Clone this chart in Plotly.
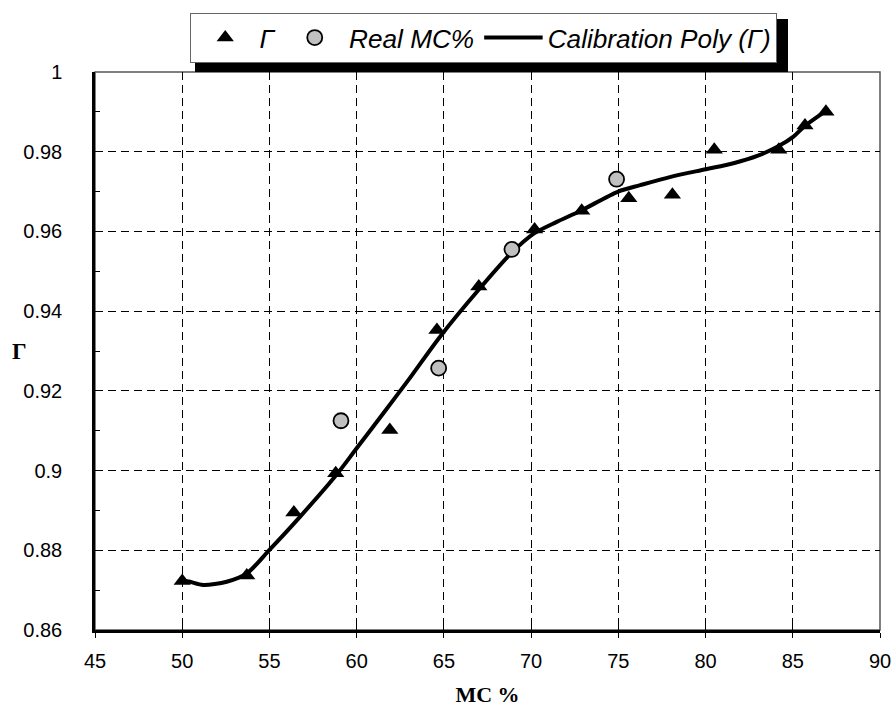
import plotly.graph_objects as go

# Γ measurements
gamma_mc = [50.0, 53.7, 56.4, 58.8, 61.9, 64.6, 67.0, 70.2, 72.9, 75.6, 78.1, 80.5, 84.2, 85.7, 86.9]
gamma_val = [0.8723, 0.8737, 0.8895, 0.8993, 0.9102, 0.9353, 0.9462, 0.9605, 0.9652, 0.9683,
             0.9692, 0.9805, 0.9805, 0.9866, 0.9900]

# Real MC%
real_mc = [59.1, 64.7, 68.9, 74.9]
real_val = [0.9125, 0.9257, 0.9555, 0.9731]

# Calibration polynomial curve
poly_mc = [50.0, 50.45, 51.2, 52.55, 53.7, 55.0, 56.75, 58.76, 60.0, 61.53, 62.96, 64.78, 66.98,
           68.85, 70.17, 71.47, 72.85, 74.99, 76.25, 78.0, 80.02, 81.6, 83.0, 84.14, 85.04, 85.65,
           86.76, 87.0]
poly_val = [0.8725, 0.8721, 0.8713, 0.8721, 0.8742, 0.8801, 0.8884, 0.8985, 0.9056, 0.9144,
            0.9227, 0.9336, 0.9453, 0.9545, 0.9595, 0.9624, 0.9652, 0.9700, 0.9716, 0.9737,
            0.9756, 0.9771, 0.9790, 0.9813, 0.9838, 0.9863, 0.9898, 0.9905]

x_ticks = [45, 50, 55, 60, 65, 70, 75, 80, 85, 90]
y_ticks = [0.86, 0.88, 0.9, 0.92, 0.94, 0.96, 0.98, 1]
y_ticktext = ["0.86", "0.88", "0.9", "0.92", "0.94", "0.96", "0.98", "1"]

W, H = 891, 707
L, R, T, B = 95, 11, 72, 77
PW, PH = W - L - R, H - T - B


def px_x(p):
    return (p - L) / PW


def px_y(p):
    return (H - B - p) / PH


SANS = "Liberation Sans, Arial, sans-serif"
SERIF = "Liberation Serif, Times New Roman, serif"

fig = go.Figure()
fig.add_trace(go.Scatter(
    x=poly_mc, y=poly_val, mode="lines", name="Calibration Poly (Γ)", legendrank=3,
    line=dict(color="black", width=4, shape="spline", smoothing=0.8),
))
fig.add_trace(go.Scatter(
    x=gamma_mc, y=gamma_val, mode="markers", name="Γ", legendrank=1,
    marker=dict(symbol="triangle-up", size=15, color="black", line=dict(width=0)),
))
fig.add_trace(go.Scatter(
    x=real_mc, y=real_val, mode="markers", name="Real MC%", legendrank=2,
    marker=dict(symbol="circle", size=15, color="#c0c0c0", line=dict(color="black", width=1.8)),
))
# invisible trace to attach xaxis2 so its inside ticks render
fig.add_trace(go.Scatter(x=[45, 90], y=[0.86, 0.86], xaxis="x2", mode="lines",
                         line=dict(width=0), hoverinfo="skip", showlegend=False))

fig.update_layout(
    width=W, height=H,
    margin=dict(l=L, r=R, t=T, b=B, autoexpand=False),
    paper_bgcolor="white", plot_bgcolor="white",
    font=dict(family=SANS, size=20, color="black"),
    showlegend=True,
    legend=dict(
        orientation="h", x=px_x(190), xanchor="left", y=px_y(13), yanchor="top",
        bgcolor="white", bordercolor="#666", borderwidth=1,
        font=dict(family=SANS, size=26.2, style="italic", color="black"),
        itemwidth=58.5, traceorder="normal",
    ),
    xaxis=dict(
        range=[45, 90], tickvals=x_ticks, ticks="outside", ticklen=5, tickwidth=1, tickcolor="black",
        showline=True, linewidth=2.5, linecolor="black",
        showgrid=True, gridcolor="black", gridwidth=1, griddash="8px,5px",
        zeroline=False, ticklabelstandoff=6, ticklabeloverflow="allow",
        title=dict(text="<b>MC %</b>", font=dict(family=SERIF, size=22), standoff=18),
    ),
    xaxis2=dict(
        range=[45, 90], overlaying="x", matches="x", tickvals=x_ticks, ticks="inside", ticklen=5,
        tickwidth=1, tickcolor="black", showticklabels=False, showgrid=False, showline=False,
        zeroline=False, side="bottom",
    ),
    yaxis=dict(
        range=[0.86, 1.0], tickvals=y_ticks, ticktext=y_ticktext, ticks="inside", ticklen=5,
        tickwidth=1, tickcolor="black",
        minor=dict(dtick=0.01, ticks="inside", ticklen=5, tickwidth=1, tickcolor="black", showgrid=False),
        showline=True, linewidth=2.5, linecolor="black",
        showgrid=True, gridcolor="black", gridwidth=1, griddash="8px,5px",
        zeroline=False, ticklabelstandoff=26, ticklabeloverflow="allow",
    ),
    shapes=[
        dict(type="rect", xref="paper", yref="paper", x0=0, x1=1, y0=0, y1=1,
             line=dict(color="#555", width=1.5), layer="below"),
        dict(type="rect", xref="paper", yref="paper", x0=px_x(195), x1=px_x(788),
             y0=px_y(72), y1=px_y(19), fillcolor="black", line=dict(width=0), layer="above"),
    ],
    annotations=[
        dict(text="<b>Γ</b>", xref="paper", yref="paper", x=px_x(19), y=0.5,
             xanchor="center", yanchor="middle", showarrow=False,
             font=dict(family=SERIF, size=23, color="black")),
    ],
)

fig.write_html("out.html", config={"displayModeBar": False},
               post_script="document.body.style.margin='0';")
